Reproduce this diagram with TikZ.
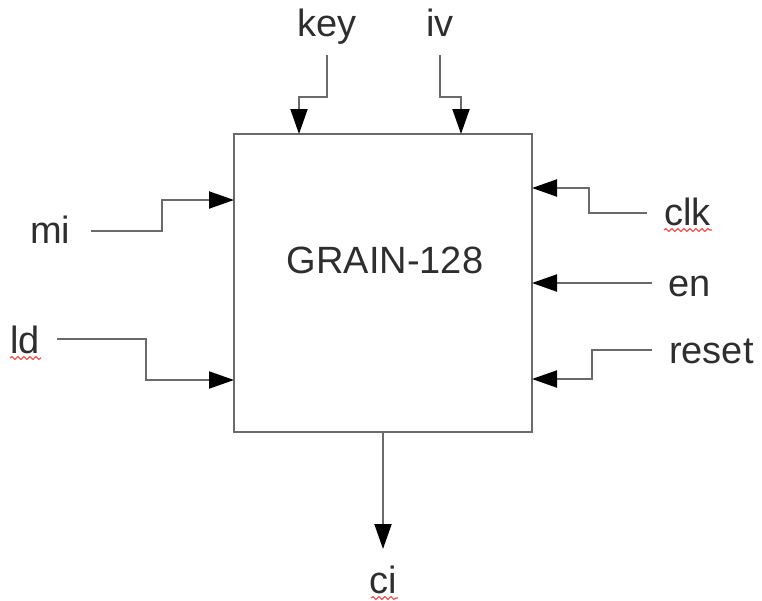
\documentclass[tikz,border=0pt]{standalone}
\usepackage{fontspec}
\setmainfont{Liberation Sans}
\usetikzlibrary{arrows.meta,decorations.pathmorphing}
\definecolor{linegray}{HTML}{6A6A6A}
\definecolor{textgray}{HTML}{2E2E2E}
\tikzset{
  lbl/.style={inner sep=0pt,text=textgray,font=\fontsize{38}{40}\selectfont},
  wire/.style={draw=linegray,line width=2pt,-{Triangle[length=25pt,width=17pt,color=black]}},
  blockbox/.style={draw=linegray,line width=2pt,minimum width=298pt,minimum height=298pt,inner sep=0pt},
  squig/.style={draw=red!75,line width=1.1pt,decorate,decoration={snake,amplitude=1.4pt,segment length=6pt}}
}
\begin{document}
\begin{tikzpicture}[x=1pt,y=-1pt]
\useasboundingbox (0,0) rectangle (762,600);
\node[blockbox] (g) at (383,283) {};
\node[lbl,anchor=base,font=\fontsize{38}{40}\selectfont] (title) at (385,273) {GRAIN-128};
% labels
\node[lbl,anchor=base] (key) at (327,36) {key};
\node[lbl,anchor=base] (iv) at (440,36) {iv};
\node[lbl,anchor=base west] (mi) at (30,243) {mi};
\node[lbl,anchor=base west] (ld) at (10,353) {ld};
\node[lbl,anchor=base west] (clk) at (664,225) {clk};
\node[lbl,anchor=base west] (en) at (668,296) {en};
\node[lbl,anchor=base west] (reset) at (669,363) {reset};
\node[lbl,anchor=base] (ci) at (383,593) {ci};
% start coordinates
\coordinate (keyS) at (327,55);
\coordinate (ivS) at (440,55);
\coordinate (miS) at (91,231);
\coordinate (ldS) at (57,339);
\coordinate (clkS) at (647,213);
\coordinate (enS) at (652,283);
\coordinate (resetS) at (652,350);
\coordinate (keyE) at (299,134);
\coordinate (ivE) at (461,134);
\coordinate (miE) at (234,200);
\coordinate (ldE) at (234,380);
\coordinate (clkE) at (532,188);
\coordinate (enE) at (532,283);
\coordinate (resetE) at (532,379);
\coordinate (ciS) at (383,432);
\coordinate (ciE) at (383,549);
% wires
\draw[wire] (keyS) -- (327,97) -- (299,97) -- (keyE);
\draw[wire] (ivS) -- (440,97) -- (461,97) -- (ivE);
\draw[wire] (miS) -- (162,231) -- (162,200) -- (miE);
\draw[wire] (ldS) -- (146,339) -- (146,380) -- (ldE);
\draw[wire] (clkS) -- (589,213) -- (589,188) -- (clkE);
\draw[wire] (enS) -- (enE);
\draw[wire] (resetS) -- (592,350) -- (592,379) -- (resetE);
\draw[wire] (ciS) -- (ciE);
% spell-check underlines
\draw[squig] (10,358) -- (41,358);
\draw[squig] (664,230) -- (712,230);
\draw[squig] (371,598) -- (398,598);
\end{tikzpicture}
\end{document}
